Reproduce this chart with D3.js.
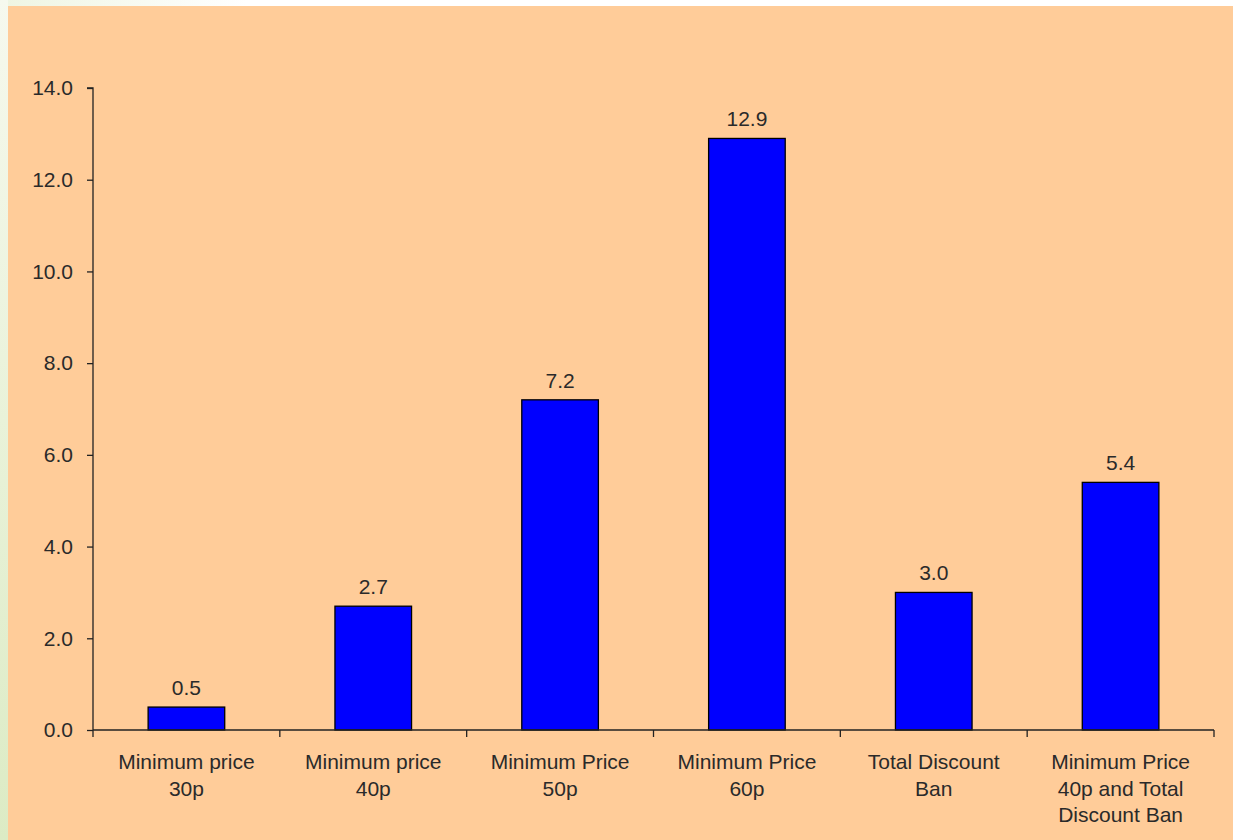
<!DOCTYPE html>
<html><head><meta charset="utf-8">
<script src="https://cdn.jsdelivr.net/npm/d3@7"></script>
<style>body{margin:0;background:#fff;}svg{display:block;}</style>
</head><body>
<svg id="c" width="1233" height="840"></svg>
<script>
const categories = [
  ["Minimum price", "30p"],
  ["Minimum price", "40p"],
  ["Minimum Price", "50p"],
  ["Minimum Price", "60p"],
  ["Total Discount", "Ban"],
  ["Minimum Price", "40p and Total", "Discount Ban"]
];
const values = [0.5, 2.7, 7.2, 12.9, 3.0, 5.4];
const yTicks = [0, 2, 4, 6, 8, 10, 12, 14];

const svg = d3.select("#c");
const defs = svg.append("defs");
const lg = defs.append("linearGradient").attr("id","lg").attr("x1",0).attr("y1",0).attr("x2",0).attr("y2",1);
lg.append("stop").attr("offset","0%").attr("stop-color","#f6f9ee");
lg.append("stop").attr("offset","100%").attr("stop-color","#dcebc4");
const tg = defs.append("linearGradient").attr("id","tg").attr("x1",0).attr("y1",0).attr("x2",1).attr("y2",0);
tg.append("stop").attr("offset","0%").attr("stop-color","#eef5e2");
tg.append("stop").attr("offset","20%").attr("stop-color","#ffffff");
tg.append("stop").attr("offset","100%").attr("stop-color","#ffffff");

svg.append("rect").attr("x",0).attr("y",0).attr("width",1233).attr("height",6).attr("fill","url(#tg)");
svg.append("rect").attr("x",0).attr("y",0).attr("width",8).attr("height",840).attr("fill","url(#lg)");
svg.append("rect").attr("x",8).attr("y",6).attr("width",1225).attr("height",834).attr("fill","#ffcc99");

const x0 = 93, x1 = 1214, yTop = 88, yBot = 730;
const x = d3.scaleBand().domain(d3.range(values.length)).range([x0, x1]).paddingInner(0.59).paddingOuter(0.295);
const xb = d3.scaleBand().domain(d3.range(values.length)).range([x0, x1]);
const y = d3.scaleLinear().domain([0, 14]).range([yBot, yTop]);

const font = "'Liberation Sans', Arial, sans-serif";
const fs = 21;
const txt = "#2a2a2a";

// y axis
const yAxis = svg.append("g").attr("transform", `translate(${x0},0)`)
  .call(d3.axisLeft(y).tickValues(yTicks).tickFormat(d3.format(".1f")).tickSize(6).tickPadding(14));
yAxis.select(".domain").attr("stroke","#222").attr("stroke-width",1.3).attr("d", `M-6,${yTop}H0V${yBot}`);
yAxis.selectAll(".tick line").attr("stroke","#222").attr("stroke-width",1.3);
yAxis.selectAll(".tick text").attr("font-family",font).attr("font-size",fs).attr("fill",txt);

// bars
svg.selectAll("rect.bar").data(values).join("rect").attr("class","bar")
  .attr("x",(d,i)=>x(i)).attr("width",x.bandwidth())
  .attr("y",d=>y(d)).attr("height",d=>yBot-y(d))
  .attr("fill","#0000ff").attr("stroke","#000").attr("stroke-width",1.3);

// value labels
svg.selectAll("text.val").data(values).join("text").attr("class","val")
  .attr("x",(d,i)=>x(i)+x.bandwidth()/2).attr("y",d=>y(d)-12)
  .attr("text-anchor","middle").attr("font-family",font).attr("font-size",fs).attr("fill",txt)
  .text(d=>d3.format(".1f")(d));

// x axis
const xAxis = svg.append("g").attr("transform",`translate(0,${yBot})`)
  .call(d3.axisBottom(xb).tickSize(0).tickFormat(""));
xAxis.select(".domain").attr("stroke","#222").attr("stroke-width",1.3).attr("d",`M${x0},0H${x1}`);
xAxis.selectAll(".tick line").remove();
const bounds = d3.range(values.length + 1).map(i => i < values.length ? xb(i) : x1);
xAxis.selectAll("line.xt").data(bounds).join("line").attr("class","xt")
  .attr("x1",d=>d).attr("x2",d=>d).attr("y1",0).attr("y2",7).attr("stroke","#222").attr("stroke-width",1.3);

// category labels
const cl = svg.selectAll("text.cat").data(categories).join("text").attr("class","cat")
  .attr("x",(d,i)=>xb(i)+xb.bandwidth()/2).attr("y",769)
  .attr("text-anchor","middle").attr("font-family",font).attr("font-size",fs).attr("fill",txt);
cl.selectAll("tspan").data(d=>d).join("tspan")
  .attr("x",function(){return d3.select(this.parentNode).attr("x");})
  .attr("dy",(d,i)=>i===0?0:26.5).text(d=>d);
</script>
</body></html>
